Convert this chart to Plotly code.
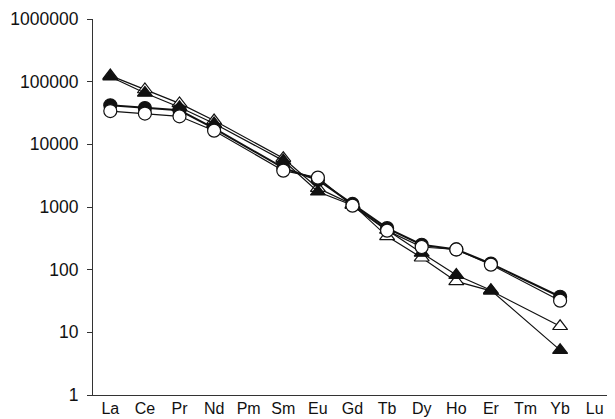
import plotly.graph_objects as go

elements = ["La", "Ce", "Pr", "Nd", "Pm", "Sm", "Eu", "Gd", "Tb", "Dy", "Ho", "Er", "Tm", "Yb", "Lu"]

open_triangle = [125000, 75000, 45000, 24000, None, 6000, 2000, 1100, 340, 155, 65, 46, None, 12.5, None]
filled_triangle = [120000, 66000, 39000, 21500, None, 5500, 1750, 1070, 430, 185, 82, 47, None, 5.2, None]
filled_circle = [42000, 38000, 35000, 18000, None, 4200, 2700, 1120, 460, 250, 210, 125, None, 37, None]
open_circle = [34000, 31000, 28000, 16500, None, 3800, 2950, 1050, 420, 230, 210, 120, None, 32, None]

y_tickvals = [1, 10, 100, 1000, 10000, 100000, 1000000]
y_ticktext = ["1", "10", "100", "1000", "10000", "100000", "1000000"]

fig = go.Figure()

def add(y, symbol, fill, lw):
    fig.add_trace(go.Scatter(
        x=elements, y=y, mode="lines+markers", connectgaps=True,
        line=dict(color="#111111", width=lw),
        marker=dict(symbol=symbol, size=13, color=fill,
                    line=dict(color="#111111", width=1.2)),
        showlegend=False,
    ))

add(open_triangle, "triangle-up", "white", 1.2)
add(filled_triangle, "triangle-up", "#111111", 1.2)
add(filled_circle, "circle", "#111111", 2)
add(open_circle, "circle", "white", 1.2)

# the page body has an 8px default margin, so the figure is sized to fit the window
fig.update_layout(
    width=607, height=411,
    margin=dict(l=85, r=3, t=11, b=24),
    paper_bgcolor="white", plot_bgcolor="white",
    font=dict(family="Liberation Sans, Arial, sans-serif", size=17, color="#111111"),
    xaxis=dict(
        type="category", categoryorder="array", categoryarray=elements,
        range=[-0.5, 14.5], automargin=False,
        showline=True, linecolor="#333333", linewidth=1,
        ticks="", showgrid=False, zeroline=False,
        ticklabelstandoff=-1,
        tickfont=dict(size=16),
    ),
    yaxis=dict(
        type="log", range=[0, 6], automargin=False,
        tickvals=y_tickvals, ticktext=y_ticktext,
        showline=True, linecolor="#333333", linewidth=1,
        ticks="outside", ticklen=5, tickcolor="#333333",
        showgrid=False, zeroline=False,
        ticklabelstandoff=5,
        tickfont=dict(size=17.5),
    ),
)

fig.write_html("out.html")
